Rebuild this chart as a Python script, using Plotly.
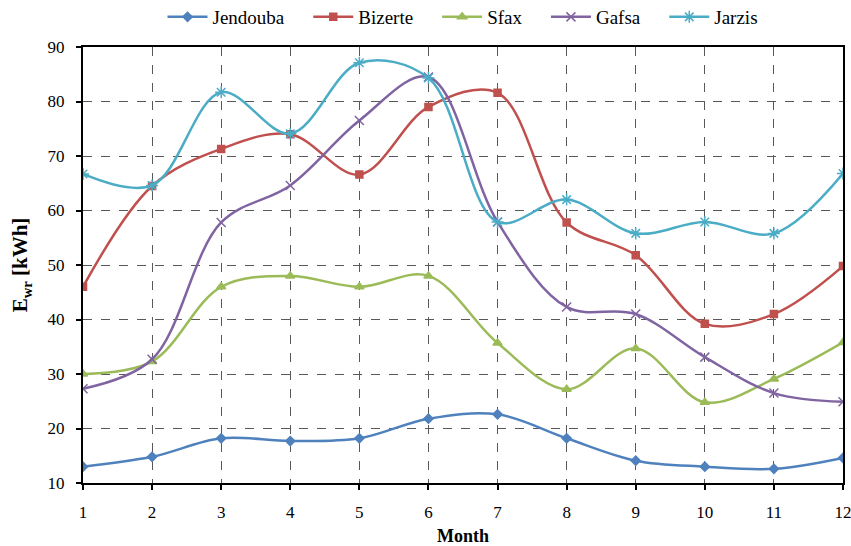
import plotly.graph_objects as go

months = list(range(1, 13))
jendouba = [13.0, 14.8, 18.2, 17.7, 18.2, 21.8, 22.6, 18.2, 14.1, 13.0, 12.6, 14.6]
bizerte = [46.0, 64.5, 71.3, 74.0, 66.6, 79.0, 81.6, 57.8, 51.8, 39.2, 41.0, 49.8]
sfax = [30.0, 32.3, 46.0, 48.0, 46.0, 48.0, 35.7, 27.2, 34.7, 24.8, 29.1, 35.8]
gafsa = [27.3, 32.7, 57.8, 64.6, 76.5, 84.5, 57.9, 42.3, 41.0, 33.1, 26.5, 24.9]
jarzis = [66.7, 64.6, 81.7, 74.1, 87.1, 84.3, 57.9, 62.0, 55.8, 57.9, 55.8, 66.8]

pad = "\u00a0" * 4
series = [
    ("Jendouba", jendouba, "#4F81BD", "diamond", 7, pad),
    ("Bizerte", bizerte, "#C0504D", "square", 7, pad),
    ("Sfax", sfax, "#9BBB59", "triangle-up", 8, pad),
    ("Gafsa", gafsa, "#8064A2", "x-thin-open", 9, pad),
    ("Jarzis", jarzis, "#4BACC6", "asterisk-open", 10, ""),
]

FONT = "Liberation Serif, Times New Roman, serif"

fig = go.Figure()
for name, vals, color, sym, size, tail in series:
    fig.add_trace(go.Scatter(
        x=months, y=vals, name=name + tail, mode="lines+markers",
        line=dict(color=color, width=2.5, shape="spline", smoothing=1.0),
        marker=dict(symbol=sym, size=size, color=color,
                    line=dict(color=color, width=1.5)),
    ))

fig.update_layout(
    width=851, height=546,
    margin=dict(l=83, r=8, t=47, b=63, autoexpand=False),
    paper_bgcolor="white", plot_bgcolor="white",
    font=dict(family=FONT, size=17, color="black"),
    legend=dict(orientation="h", x=0.5, xanchor="center",
                yref="container", y=1 - 17 / 546, yanchor="middle",
                font=dict(family=FONT, size=19, color="black"), itemwidth=40,
                bgcolor="rgba(0,0,0,0)"),
    xaxis=dict(
        range=[1, 12], tickvals=months, ticktext=[str(m) for m in months],
        showline=True, linecolor="black", linewidth=2, mirror=True,
        ticks="outside", ticklen=5, tickcolor="black", tickwidth=1.5,
        tickfont=dict(family=FONT, size=17, color="black"),
        ticklabelstandoff=8, ticklabeloverflow="allow",
        showgrid=True, gridcolor="#595959", griddash="dash", gridwidth=1,
        zeroline=False, automargin=False,
        title=dict(text="<b>Month</b>", font=dict(family=FONT, size=18, color="black"), standoff=17),
    ),
    yaxis=dict(
        range=[10, 90], dtick=10,
        showline=True, linecolor="black", linewidth=2, mirror=True,
        ticks="outside", ticklen=5, tickcolor="black", tickwidth=1.5,
        tickfont=dict(family=FONT, size=17, color="black"),
        ticklabelstandoff=8, ticklabeloverflow="allow",
        showgrid=True, gridcolor="#595959", griddash="dash", gridwidth=1,
        zeroline=False, automargin=False,
        title=dict(text="<b>E<sub>wr</sub> [kWh]</b>", font=dict(family=FONT, size=21, color="black"), standoff=14),
    ),
)

fig.write_html("out.html", config={"displayModeBar": False},
               post_script="document.body.style.margin='0';")
